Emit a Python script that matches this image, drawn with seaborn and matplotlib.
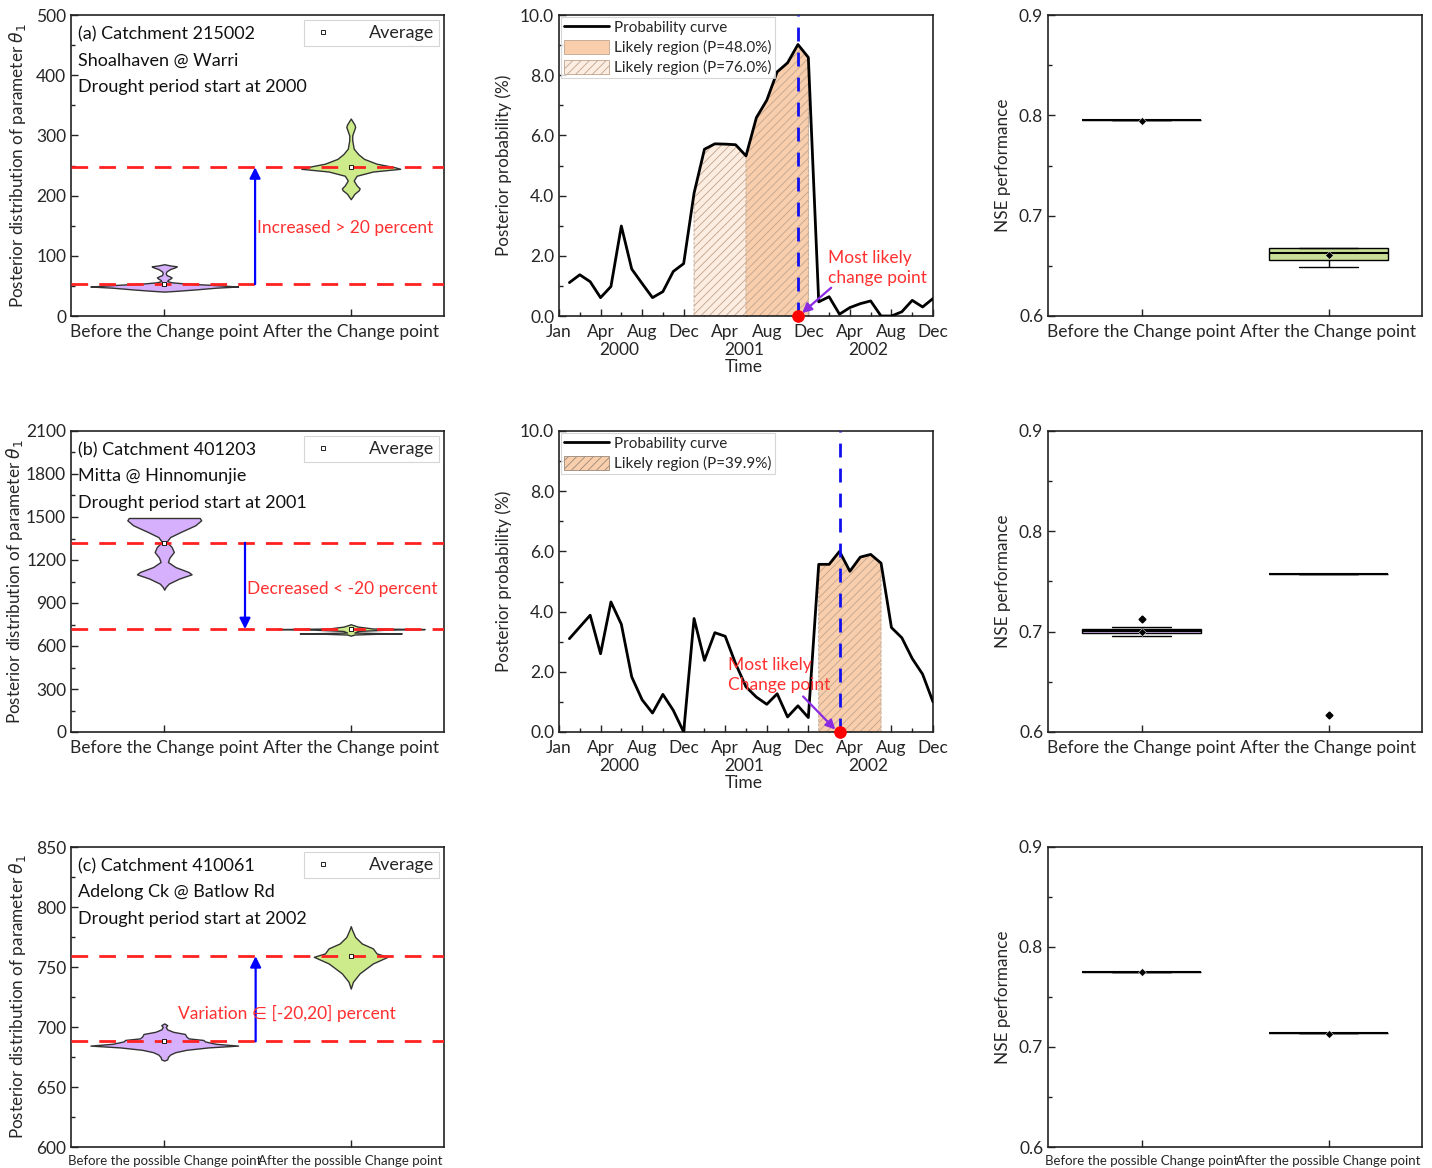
import numpy as np
import pandas as pd
import matplotlib
matplotlib.use("Agg")
import matplotlib.pyplot as plt
import matplotlib.transforms as mtrans
import seaborn as sns
from matplotlib.lines import Line2D
from matplotlib.patches import Patch
from matplotlib.ticker import MultipleLocator, FormatStrFormatter

# ---------------- data ----------------
# (left column) violin profiles: parameter value and relative density
cat_a = ["Before the Change point", "After the Change point"]
cat_c = ["Before the possible Change point", "After the possible Change point"]

va_before_y = [40.5, 42, 44, 47, 49, 50, 51.7, 54, 56, 58, 60, 62, 64, 66, 68, 71, 74, 78, 81, 82.5, 84, 86]
va_before_d = [0, 0.19, 0.41, 0.7, 1.0, 0.86, 0.64, 0.28, 0.1, 0.04, 0.05, 0.08, 0.1, 0.07, 0.03, 0.02, 0.03, 0.08, 0.15, 0.17, 0.08, 0]
va_after_y = [194, 203, 209, 212, 217, 225, 233, 240, 244.5, 247, 253, 261, 269, 278, 292, 300, 307, 314, 318, 322, 328]
va_after_d = [0, 0.05, 0.11, 0.12, 0.08, 0.04, 0.08, 0.3, 0.67, 0.6, 0.35, 0.18, 0.1, 0.04, 0.02, 0.02, 0.04, 0.06, 0.05, 0.03, 0]
mean_a = [53, 247]

vb_before_y = [993, 1012, 1035, 1070, 1100, 1116, 1151, 1186, 1216, 1256, 1291, 1326, 1360, 1395, 1442, 1477, 1493, 1493]
vb_before_d = [0, 0.02, 0.06, 0.2, 0.37, 0.33, 0.15, 0.05, 0.07, 0.13, 0.1, 0.03, 0.08, 0.22, 0.42, 0.5, 0.48, 0]
vb_after_y = [672, 680, 686, 688, 690, 694, 705, 714, 718, 722, 735, 748, 752]
vb_after_d = [0, 0.05, 0.4, 0.69, 0.4, 0.05, 0.1, 0.5, 1.0, 0.3, 0.1, 0.02, 0]
mean_b = [1320, 718]

vc_before_y = [672, 673, 675, 677, 679, 681, 683, 684.5, 686, 688, 689.2, 690.5, 692, 694.2, 696, 698, 700, 701.5, 703]
vc_before_d = [0, 0.04, 0.05, 0.08, 0.15, 0.3, 0.6, 1.0, 0.7, 0.55, 0.53, 0.33, 0.3, 0.28, 0.12, 0.04, 0.02, 0.04, 0]
vc_after_y = [732, 737.7, 744.7, 753, 758.5, 761.3, 765.5, 769.6, 775, 780.6, 784]
vc_after_d = [0, 0.03, 0.12, 0.3, 0.5, 0.35, 0.3, 0.15, 0.06, 0.02, 0]
mean_c = [688, 759]

change_text = ["Increased > 20 percent", "Decreased < -20 percent", "Variation \u2208 [-20,20] percent"]
panel_titles = [
    ["(a) Catchment 215002", "Shoalhaven @ Warri", "Drought period start at 2000"],
    ["(b) Catchment 401203", "Mitta @ Hinnomunjie", "Drought period start at 2001"],
    ["(c) Catchment 410061", "Adelong Ck @ Batlow Rd", "Drought period start at 2002"],
]

# (middle column) posterior probability of change point, months Jan 2000 .. Dec 2002
month_index = list(range(1, 37))
prob_a = [1.11, 1.37, 1.14, 0.61, 0.98, 2.99, 1.56, 1.08, 0.61, 0.81, 1.48, 1.74,
          4.08, 5.54, 5.72, 5.71, 5.69, 5.32, 6.59, 7.17, 8.11, 8.41, 9.02, 8.59,
          0.47, 0.64, 0.06, 0.28, 0.41, 0.50, 0.0, 0.0, 0.14, 0.52, 0.30, 0.58]
prob_b = [3.10, 3.49, 3.88, 2.60, 4.32, 3.58, 1.83, 1.07, 0.63, 1.25, 0.72, 0.0,
          3.77, 2.38, 3.30, 3.18, 2.27, 1.50, 1.16, 0.92, 1.27, 0.50, 0.87, 0.48,
          5.57, 5.57, 6.00, 5.34, 5.81, 5.90, 5.61, 3.47, 3.13, 2.44, 1.92, 1.00]
region76_a = (13, 24)
region48_a = (18, 24)
region_b = (25, 31)
change_point_a = 23
change_point_b = 27
time_tick_pos = [0, 4, 8, 12, 16, 20, 24, 28, 32, 36]
time_tick_labels = ["Jan", "Apr", "Aug", "Dec", "Apr", "Aug", "Dec", "Apr", "Aug", "Dec"]
year_labels = ["2000", "2001", "2002"]
year_label_pos = [5.8, 17.8, 29.8]

# (right column) NSE performance samples
nse_a_before = [0.795, 0.795, 0.795, 0.795, 0.795]
nse_a_after = [0.649, 0.656, 0.656, 0.660, 0.663, 0.666, 0.668, 0.668, 0.668]
nse_b_before = [0.696, 0.698, 0.698, 0.699, 0.700, 0.701, 0.703, 0.703, 0.705, 0.713]
nse_b_after = [0.617, 0.757, 0.757, 0.757, 0.757, 0.757, 0.757, 0.757, 0.757, 0.757]
nse_c_before = [0.775, 0.775, 0.775, 0.775, 0.775]
nse_c_after = [0.714, 0.714, 0.714, 0.714, 0.714]
nse_mean_a = [0.794, 0.661]
nse_mean_b = [0.700, None]
nse_mean_c = [0.775, 0.713]

# ---------------- style ----------------
sns.set_theme(style="white")
plt.rcParams["font.family"] = ["Lato", "DejaVu Sans"]
plt.rcParams["hatch.color"] = "#c0a48e"
plt.rcParams["hatch.linewidth"] = 0.6
plt.rcParams["axes.edgecolor"] = "#222222"
plt.rcParams["axes.linewidth"] = 1.2

PURPLE = "#d6b0fc"
GREEN = "#cdeb8b"
PEACH = "#f8ceac"
PEACH_LIGHT = "#fdece0"
RED = "#ff2020"
TXT_RED = "#ff3030"
FS = 12.5

fig = plt.figure(figsize=(14.32, 11.68), dpi=100)
W, H = 1432.0, 1168.0
rows = [(15, 316), (431, 732), (847, 1147)]
cols = [(71, 444), (559, 933), (1048, 1422)]


def make_ax(r, c):
    t, b = rows[r]
    l, rr = cols[c]
    return fig.add_axes([l / W, 1 - b / H, (rr - l) / W, (b - t) / H])


def style_ticks(ax):
    ax.tick_params(which="both", direction="in", top=False, right=False,
                   left=True, bottom=True, labelsize=FS, color="#222222", width=1.0)
    ax.tick_params(which="major", length=5)
    ax.tick_params(which="minor", length=3)
    ax.tick_params(axis="x", which="major", pad=6)
    for s in ax.spines.values():
        s.set_visible(True)
        s.set_color("#222222")
        s.set_linewidth(1.2)


# ---------------- left column: violins ----------------
violins = [
    ((va_before_y, va_before_d), (va_after_y, va_after_d), mean_a, (0, 500, 100), cat_a, 0.487, 146, 0.497, 6),
    ((vb_before_y, vb_before_d), (vb_after_y, vb_after_d), mean_b, (0, 2100, 300), cat_a, 0.433, 998, 0.444, 1),
    ((vc_before_y, vc_before_d), (vc_after_y, vc_after_d), mean_c, (600, 850, 50), cat_c, 0.49, 711.5, 0.075, 6),
]
HALF = 0.396
for r, (vb, vaf, means, (ymin, ymax, ystep), cats, arrow_x, txt_y, txt_x, lpad) in enumerate(violins):
    ax = make_ax(r, 0)
    for pos, ((yy, dd), col) in enumerate(zip([vb, vaf], [PURPLE, GREEN])):
        yy = np.asarray(yy, float)
        dd = np.asarray(dd, float) * HALF
        ax.fill_betweenx(yy, pos - dd, pos + dd, facecolor=col, edgecolor="#333333", linewidth=1.0, zorder=2)
    for m in means:
        ax.axhline(m, color=RED, lw=2.0, dashes=(6, 4), zorder=3)
    mdf = pd.DataFrame({"x": [0, 1], "y": means})
    sns.scatterplot(data=mdf, x="x", y="y", marker="s", s=12, color="white",
                    edgecolor="black", linewidth=0.6, ax=ax, zorder=4)
    ax.annotate("", xy=(arrow_x, means[1]), xytext=(arrow_x, means[0]),
                arrowprops=dict(arrowstyle="-|>", color="blue", lw=1.6, mutation_scale=16,
                                shrinkA=0, shrinkB=0), zorder=5)
    ax.text(txt_x, txt_y, change_text[r], color=TXT_RED, fontsize=FS, ha="left", va="center",
            family=["Lato", "DejaVu Sans"], zorder=6)
    for k, line in enumerate(panel_titles[r]):
        ax.text(0.019, 0.937 - 0.088 * k, line, transform=ax.transAxes, fontsize=13,
                ha="left", va="center", color="#111111")
    ax.set_xlim(-0.5, 1.5)
    ax.set_ylim(ymin, ymax)
    ax.set_xticks([0, 1])
    ax.set_xticklabels(cats)
    ax.yaxis.set_major_locator(MultipleLocator(ystep))
    ax.yaxis.set_minor_locator(MultipleLocator(ystep / 2))
    ax.set_xlabel("")
    ax.set_ylabel(r"Posterior distribution of parameter $\theta_1$", fontsize=12.3, labelpad=lpad)
    style_ticks(ax)
    if r == 2:
        ax.tick_params(axis="x", labelsize=9.5)
    h = Line2D([], [], marker="s", ls="", markerfacecolor="white", markeredgecolor="black",
               markersize=3.5, markeredgewidth=0.6)
    leg = ax.legend([h], ["Average"], loc="upper right", fontsize=13, frameon=True,
                    fancybox=False, edgecolor="#cccccc", handlelength=1.5, handletextpad=1.8,
                    borderaxespad=0.25, borderpad=0.3)
    leg.get_frame().set_linewidth(0.8)

# ---------------- middle column: probability curves ----------------
prob_panels = [
    (prob_a, change_point_a, [(region76_a, PEACH_LIGHT), (region48_a, PEACH)],
     "Most likely\nchange point", (25.9, 1.6), (26.2, 0.94), (23.4, 0.1),
     ["Probability curve", "Likely region (P=48.0%)", "Likely region (P=76.0%)"]),
    (prob_b, change_point_b, [(region_b, PEACH)],
     "Most likely\nChange point", (16.3, 1.9), (23.5, 1.18), (26.6, 0.08),
     ["Probability curve", "Likely region (P=39.9%)"]),
]
for r, (prob, cp, regions, txt, txt_xy, a_from, a_to, leg_labels) in enumerate(prob_panels):
    ax = make_ax(r, 1)
    df = pd.DataFrame({"month": month_index, "prob": prob})
    for (s, e), col in regions:
        sub = df[(df.month >= s) & (df.month <= e)]
        ax.fill_between(sub.month, 0, sub.prob, facecolor=col, edgecolor="#c0a48e",
                        hatch="////", linewidth=0.6, linestyle="--", zorder=1)
    sns.lineplot(data=df, x="month", y="prob", color="black", lw=2.0, ax=ax, zorder=3)
    ax.axvline(cp, color="#1010ee", lw=2.0, dashes=(5, 4), zorder=4)
    sns.scatterplot(x=[cp], y=[0], color="red", s=70, ax=ax, zorder=6, clip_on=False, edgecolor="red")
    ax.annotate("", xy=a_to, xytext=a_from,
                arrowprops=dict(arrowstyle="-|>", color="#8a2be2", lw=1.6, mutation_scale=14,
                                shrinkA=0, shrinkB=0), zorder=5)
    ax.text(txt_xy[0], txt_xy[1], txt, color=TXT_RED, fontsize=FS, ha="left", va="center",
            linespacing=1.35, zorder=6)
    ax.set_xlim(0, 36)
    ax.set_ylim(0, 10)
    ax.set_xticks(time_tick_pos)
    ax.set_xticklabels(time_tick_labels)
    ax.xaxis.set_minor_locator(MultipleLocator(2))
    ax.yaxis.set_major_locator(MultipleLocator(2))
    ax.yaxis.set_minor_locator(MultipleLocator(1))
    ax.yaxis.set_major_formatter(FormatStrFormatter("%.1f"))
    ax.set_xlabel("")
    ax.set_ylabel("Posterior probability (%)", fontsize=12.3, labelpad=6)
    style_ticks(ax)
    trans = mtrans.blended_transform_factory(ax.transData, ax.transAxes)
    for lab, xp in zip(year_labels, year_label_pos):
        ax.text(xp, -0.113, lab, transform=trans, ha="center", va="center", fontsize=FS)
    ax.text(17.8, -0.17, "Time", transform=trans, ha="center", va="center", fontsize=FS)
    handles = [Line2D([], [], color="black", lw=2.0)]
    if r == 0:
        handles += [Patch(facecolor=PEACH, edgecolor="#c0a48e", lw=0.6),
                    Patch(facecolor=PEACH_LIGHT, edgecolor="#c0a48e", hatch="////", lw=0.6)]
    else:
        handles += [Patch(facecolor=PEACH, edgecolor="#9a8878", hatch="////", lw=0.6)]
    leg = ax.legend(handles, leg_labels, loc="upper left", fontsize=11, frameon=True, fancybox=False,
                    edgecolor="#cccccc", handlelength=3.0, handleheight=1.1, handletextpad=0.3,
                    borderaxespad=0.1, borderpad=0.2, labelspacing=0.3)
    leg.get_frame().set_linewidth(0.8)

# ---------------- right column: NSE boxplots ----------------
nse_sets = [
    (nse_a_before, nse_a_after, nse_mean_a, cat_a),
    (nse_b_before, nse_b_after, nse_mean_b, cat_a),
    (nse_c_before, nse_c_after, nse_mean_c, cat_c),
]
for r, (bef, aft, means, cats) in enumerate(nse_sets):
    ax = make_ax(r, 2)
    df = pd.DataFrame({"period": [cats[0]] * len(bef) + [cats[1]] * len(aft),
                       "nse": bef + aft})
    sns.boxplot(data=df, x="period", y="nse", hue="period", order=cats, hue_order=cats,
                palette=[PURPLE, GREEN], width=0.64, linecolor="black", linewidth=1.0,
                legend=False, ax=ax,
                flierprops=dict(marker="D", markersize=3.5, markerfacecolor="black",
                                markeredgecolor="black"),
                medianprops=dict(color="black", linewidth=1.5))
    mx = [i for i, m in enumerate(means) if m is not None]
    my = [m for m in means if m is not None]
    sns.scatterplot(x=mx, y=my, marker="D", s=16, color="black", ax=ax, zorder=5)
    ax.set_xlim(-0.5, 1.5)
    ax.set_ylim(0.6, 0.9)
    ax.yaxis.set_major_locator(MultipleLocator(0.1))
    ax.yaxis.set_minor_locator(MultipleLocator(0.05))
    ax.yaxis.set_major_formatter(FormatStrFormatter("%.1f"))
    ax.set_xlabel("")
    ax.set_ylabel("NSE performance", fontsize=12.3, labelpad=6)
    style_ticks(ax)
    if r == 2:
        ax.tick_params(axis="x", labelsize=9.5)

fig.savefig("out.png", dpi=100, facecolor="white")
